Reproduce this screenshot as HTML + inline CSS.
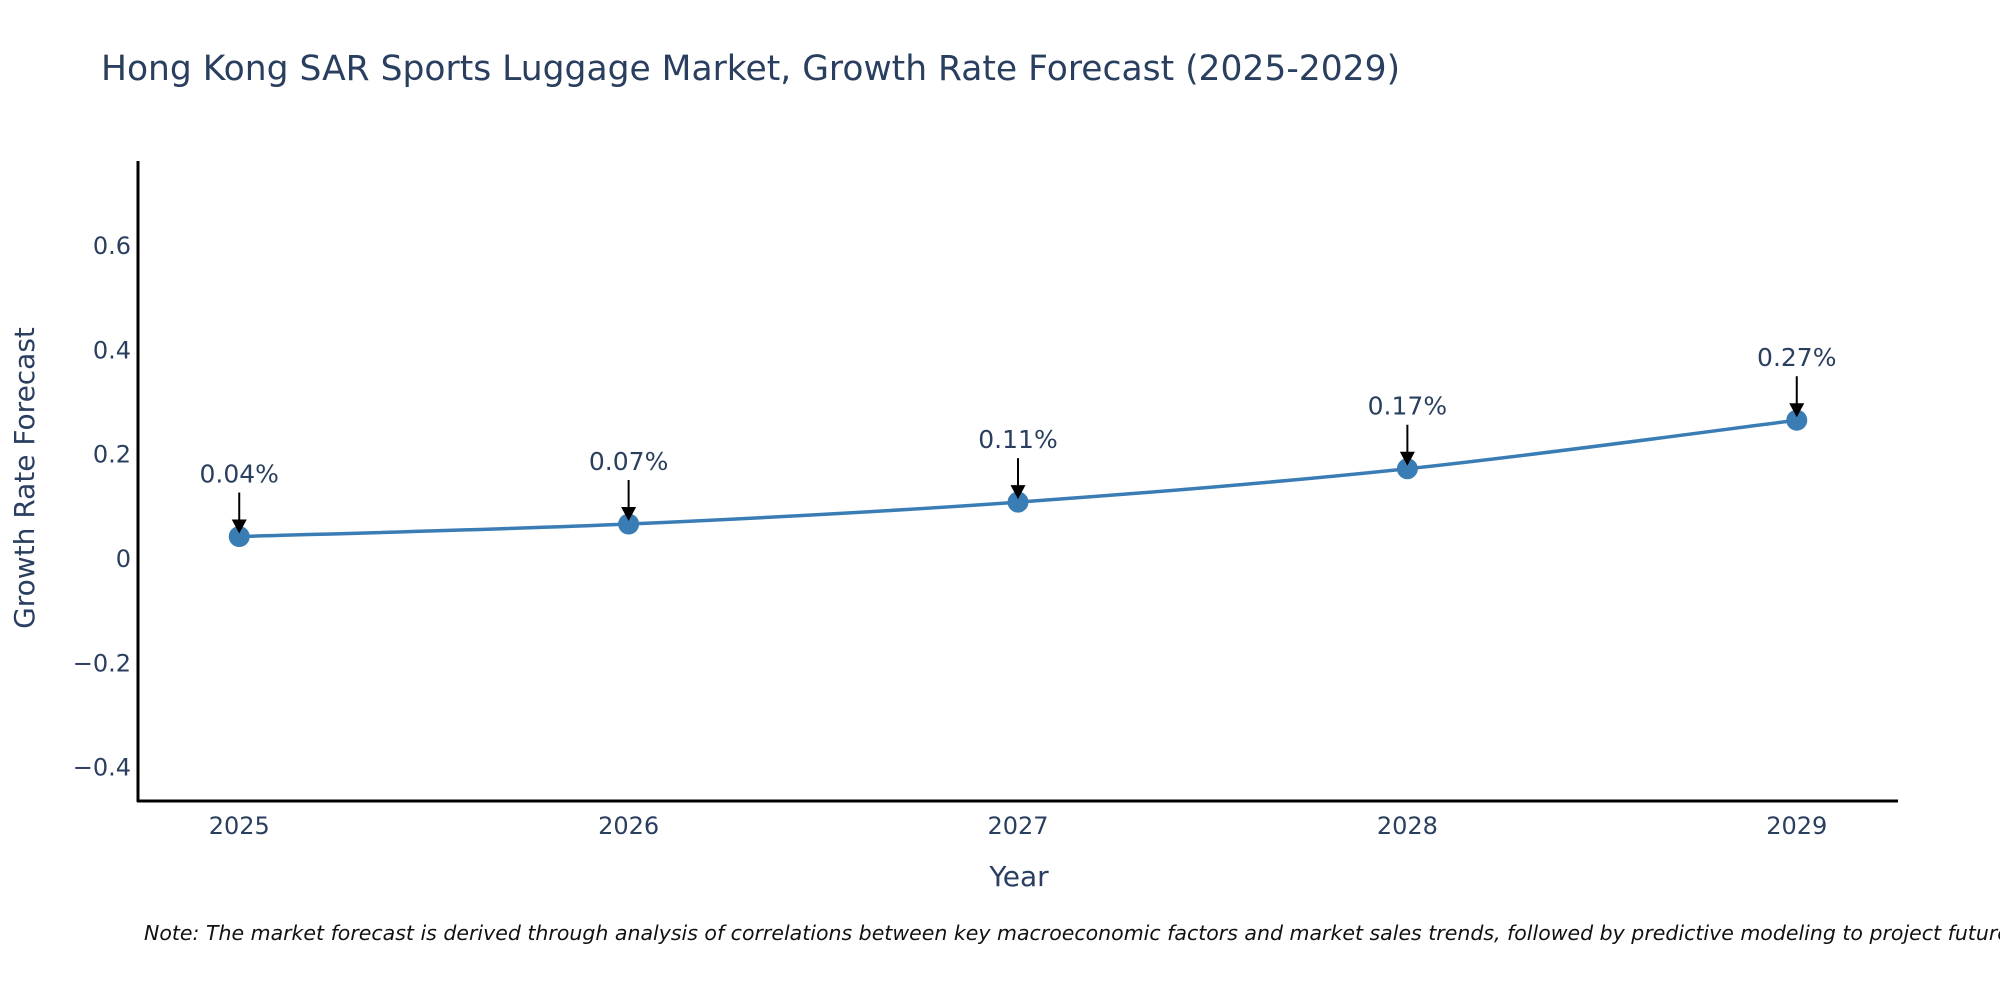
<!DOCTYPE html>
<html><head><meta charset="utf-8"><style>
html,body{margin:0;padding:0;background:#fff;}
svg{display:block;font-family:"Liberation Sans","DejaVu Sans",sans-serif;}
</style></head><body>
<svg id="chart" width="2000" height="1000" viewBox="0 0 2000 1000" xmlns="http://www.w3.org/2000/svg">
<text x="101" y="80" font-size="34.5" fill="#2a3f5f" font-family="DejaVu Sans, sans-serif">Hong Kong SAR Sports Luggage Market, Growth Rate Forecast (2025-2029)</text>
<g id="yticks"></g><g id="xticks"></g>
<line x1="138" y1="161" x2="138" y2="802" stroke="#000" stroke-width="3"/>
<line x1="137" y1="801" x2="1898" y2="801" stroke="#000" stroke-width="3"/>
<text transform="translate(34,478) rotate(-90)" text-anchor="middle" font-size="28" fill="#2a3f5f" font-family="DejaVu Sans, sans-serif">Growth Rate Forecast</text>
<text x="1019" y="886" text-anchor="middle" font-size="28" fill="#2a3f5f" font-family="DejaVu Sans, sans-serif">Year</text>
<g id="series"></g><g id="annots"></g>
<text x="144" y="940" font-size="20.5" font-style="italic" fill="#111" font-family="DejaVu Sans, sans-serif">Note: The market forecast is derived through analysis of correlations between key macroeconomic factors and market sales trends, followed by predictive modeling to project future sales.</text>
</svg>
<script>
const years = [2025, 2026, 2027, 2028, 2029];
const growth = [0.043, 0.067, 0.109, 0.173, 0.266];
const valueLabels = ["0.04%", "0.07%", "0.11%", "0.17%", "0.27%"];
const yTickValues = [-0.4, -0.2, 0, 0.2, 0.4, 0.6];
const yTickLabels = ["\u22120.4", "\u22120.2", "0", "0.2", "0.4", "0.6"];

const NS = "http://www.w3.org/2000/svg";
const X0 = 2024.74, X1 = 2029.26, PX0 = 138, PX1 = 1898;
const Y0 = -0.464, Y1 = 0.763, PY0 = 801, PY1 = 161;
function xs(v){ return PX0 + (v - X0) / (X1 - X0) * (PX1 - PX0); }
function ys(v){ return PY0 - (v - Y0) / (Y1 - Y0) * (PY0 - PY1); }
function mk(tag, attrs, parent){ const e = document.createElementNS(NS, tag); for (const k in attrs) e.setAttribute(k, attrs[k]); parent.appendChild(e); return e; }

const yt = document.getElementById('yticks');
yTickValues.forEach((v, i) => {
  const t = mk('text', {x: 131, y: ys(v) + 8, 'text-anchor': 'end', 'font-size': 24, fill: '#2a3f5f', 'font-family': 'DejaVu Sans, sans-serif'}, yt);
  
  
  t.textContent = yTickLabels[i];
});
const xt = document.getElementById('xticks');
years.forEach(v => {
  const t = mk('text', {x: xs(v), y: 834, 'text-anchor': 'middle', 'font-size': 24, fill: '#2a3f5f', 'font-family': 'DejaVu Sans, sans-serif'}, xt);
  
  
  t.textContent = String(v);
});

const pts = years.map((y, i) => [xs(y), ys(growth[i])]);
let d = `M${pts[0][0]},${pts[0][1]}`;
for (let i = 0; i < pts.length - 1; i++) {
  const p0 = pts[Math.max(0, i - 1)], p1 = pts[i], p2 = pts[i + 1], p3 = pts[Math.min(pts.length - 1, i + 2)];
  const c1 = [p1[0] + (p2[0] - p0[0]) / 6, p1[1] + (p2[1] - p0[1]) / 6];
  const c2 = [p2[0] - (p3[0] - p1[0]) / 6, p2[1] - (p3[1] - p1[1]) / 6];
  d += ` C${c1[0]},${c1[1]} ${c2[0]},${c2[1]} ${p2[0]},${p2[1]}`;
}
const ser = document.getElementById('series');
const line = mk('path', {d: d, fill: 'none', stroke: '#3a7db5', 'stroke-width': 3.5}, ser);


pts.forEach(p => {
  const c = mk('circle', {cx: p[0], cy: p[1], r: 10.5, fill: '#3a7db5'}, ser);
  
  
});
const an = document.getElementById('annots');
pts.forEach((p, i) => {
  const l = mk('line', {x1: p[0], y1: p[1] - 44, x2: p[0], y2: p[1] - 14, stroke: '#000', 'stroke-width': 2}, an);
  
  
  const h = mk('path', {d: `M${p[0]-7.5},${p[1]-17} L${p[0]+7.5},${p[1]-17} L${p[0]},${p[1]-3} Z`, fill: '#000'}, an);
  
  
  const t = mk('text', {x: p[0], y: p[1] - 54, 'text-anchor': 'middle', 'font-size': 25, fill: '#2a3f5f', 'font-family': 'DejaVu Sans, sans-serif'}, an);
  
  
  t.textContent = valueLabels[i];
});
</script>
</body></html>
